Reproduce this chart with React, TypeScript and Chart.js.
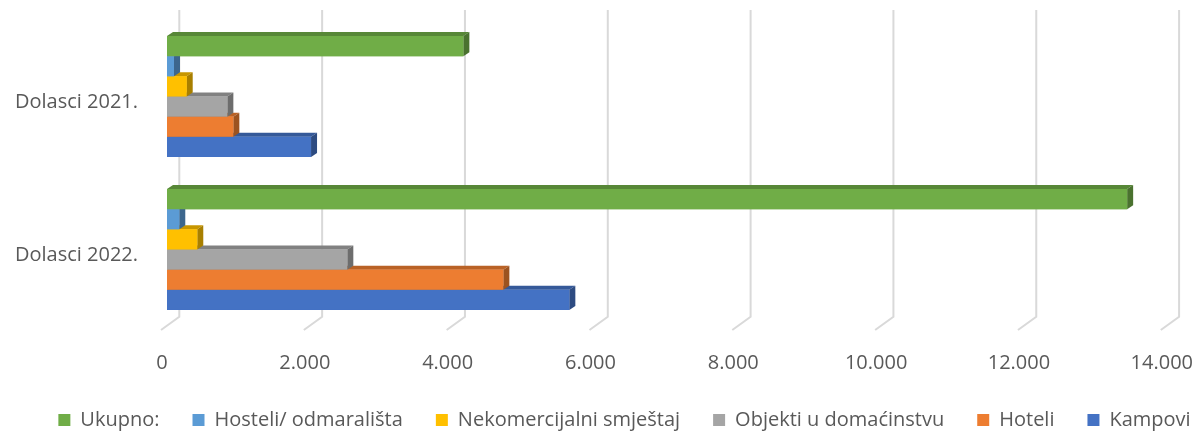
import React, { useEffect, useRef } from "react";
import { Chart, registerables } from "chart.js";

Chart.register(...registerables);

const categories = ["Dolasci 2021.", "Dolasci 2022."];
const seriesNames = [
  "Ukupno:",
  "Hosteli/ odmarališta",
  "Nekomercijalni smještaj",
  "Objekti u domaćinstvu",
  "Hoteli",
  "Kampovi",
];
const ukupno = [4150, 13445];
const hosteli = [98, 172];
const nekomercijalni = [276, 424];
const objekti = [845, 2525];
const hoteli = [929, 4710];
const kampovi = [2017, 5634];
const seriesColors = ["#70AD47", "#5B9BD5", "#FFC000", "#A5A5A5", "#ED7D31", "#4472C4"];
const xTickValues = [0, 2000, 4000, 6000, 8000, 10000, 12000, 14000];

const FONT = "'Open Sans', 'Liberation Sans', sans-serif";
const TEXT = "#595959";
const DX = 6;
const DY = 4;
const LEGEND_SHIFT_X = 24;
const LEGEND_SHIFT_Y = 8;

function shade(hex: string, f: number) {
  const n = parseInt(hex.slice(1), 16);
  const r = Math.round(((n >> 16) & 255) * f);
  const g = Math.round(((n >> 8) & 255) * f);
  const b = Math.round((n & 255) * f);
  return `rgb(${r},${g},${b})`;
}

const legendShiftPlugin = {
  id: "legendShift",
  afterLayout(chart: any) {
    const lg = chart.legend;
    if (!lg) return;
    lg.left += LEGEND_SHIFT_X;
    lg.right += LEGEND_SHIFT_X;
    lg.top += LEGEND_SHIFT_Y;
    lg.bottom += LEGEND_SHIFT_Y;
  },
};

const gridPlugin = {
  id: "grid3d",
  beforeDatasetsDraw(chart: any) {
    const { ctx, chartArea, scales } = chart;
    const x = scales.x;
    ctx.save();
    ctx.strokeStyle = "#D9D9D9";
    ctx.lineWidth = 2;
    xTickValues.forEach((v) => {
      const px = x.getPixelForValue(v);
      ctx.beginPath();
      ctx.moveTo(px + 12.3, chartArea.top - 10);
      ctx.lineTo(px + 12.3, chartArea.bottom - 9.3);
      ctx.lineTo(px - 6, chartArea.bottom + 4);
      ctx.stroke();
    });
    ctx.restore();
  },
};

const barPlugin = {
  id: "bars3d",
  afterDatasetsDraw(chart: any) {
    const { ctx } = chart;
    ctx.save();
    const n = chart.data.datasets.length;
    for (let di = n - 1; di >= 0; di--) {
      const meta = chart.getDatasetMeta(di);
      const col = seriesColors[di];
      meta.data.forEach((el: any) => {
        const { x, y, base, height } = el.getProps(["x", "y", "base", "height"], true);
        const top = y - height / 2;
        const bottom = y + height / 2;
        ctx.fillStyle = shade(col, 0.78);
        ctx.beginPath();
        ctx.moveTo(base, top);
        ctx.lineTo(base + DX, top - DY);
        ctx.lineTo(x + DX, top - DY);
        ctx.lineTo(x, top);
        ctx.closePath();
        ctx.fill();
        ctx.fillStyle = shade(col, 0.66);
        ctx.beginPath();
        ctx.moveTo(x, top);
        ctx.lineTo(x + DX, top - DY);
        ctx.lineTo(x + DX, bottom - DY);
        ctx.lineTo(x, bottom);
        ctx.closePath();
        ctx.fill();
        ctx.fillStyle = col;
        ctx.fillRect(base, top, x - base, height);
      });
    }
    ctx.restore();
  },
};

export default function App() {
  const ref = useRef<HTMLCanvasElement>(null);
  useEffect(() => {
    const values = [ukupno, hosteli, nekomercijalni, objekti, hoteli, kampovi];
    const chart = new Chart(ref.current as HTMLCanvasElement, {
      type: "bar",
      data: {
        labels: categories,
        datasets: seriesNames.map((name, i) => ({
          label: name,
          data: values[i],
          backgroundColor: seriesColors[i],
          borderWidth: 0,
          barPercentage: 1,
          categoryPercentage: 0.79,
        })),
      },
      options: {
        indexAxis: "y",
        animation: false,
        responsive: false,
        maintainAspectRatio: false,
        layout: { padding: { top: 20, right: 0, left: 0, bottom: 0 } },
        plugins: {
          tooltip: { enabled: false },
          legend: {
            position: "bottom",
            labels: {
              boxWidth: 12,
              boxHeight: 12,
              padding: 33,
              color: TEXT,
              font: { family: FONT, size: 20 },
            },
          },
        },
        scales: {
          x: {
            min: 0,
            max: 14000,
            grid: { display: false, drawTicks: true, tickLength: 22 },
            border: { display: false },
            afterFit: (s: any) => {
              s.height = 43;
            },
            afterBuildTicks: (s: any) => {
              s.ticks = xTickValues.map((v) => ({ value: v }));
            },
            ticks: {
              padding: 3,
              labelOffset: -5,
              color: TEXT,
              font: { family: FONT, size: 20 },
              maxRotation: 0,
              callback: (v: any) => Number(v).toLocaleString("de-DE"),
            },
          },
          y: {
            grid: { display: false, drawTicks: true, tickLength: 29 },
            border: { display: false },
            afterFit: (s: any) => {
              s.width = 167;
            },
            ticks: {
              padding: 0,
              labelOffset: 6,
              color: TEXT,
              font: { family: FONT, size: 20 },
            },
          },
        },
      },
      plugins: [legendShiftPlugin, gridPlugin, barPlugin],
    });
    return () => chart.destroy();
  }, []);
  return (
    <div style={{ position: "absolute", left: 0, top: 0, width: 1201, height: 432, background: "#fff" }}>
      <canvas ref={ref} width={1201} height={432} />
    </div>
  );
}
